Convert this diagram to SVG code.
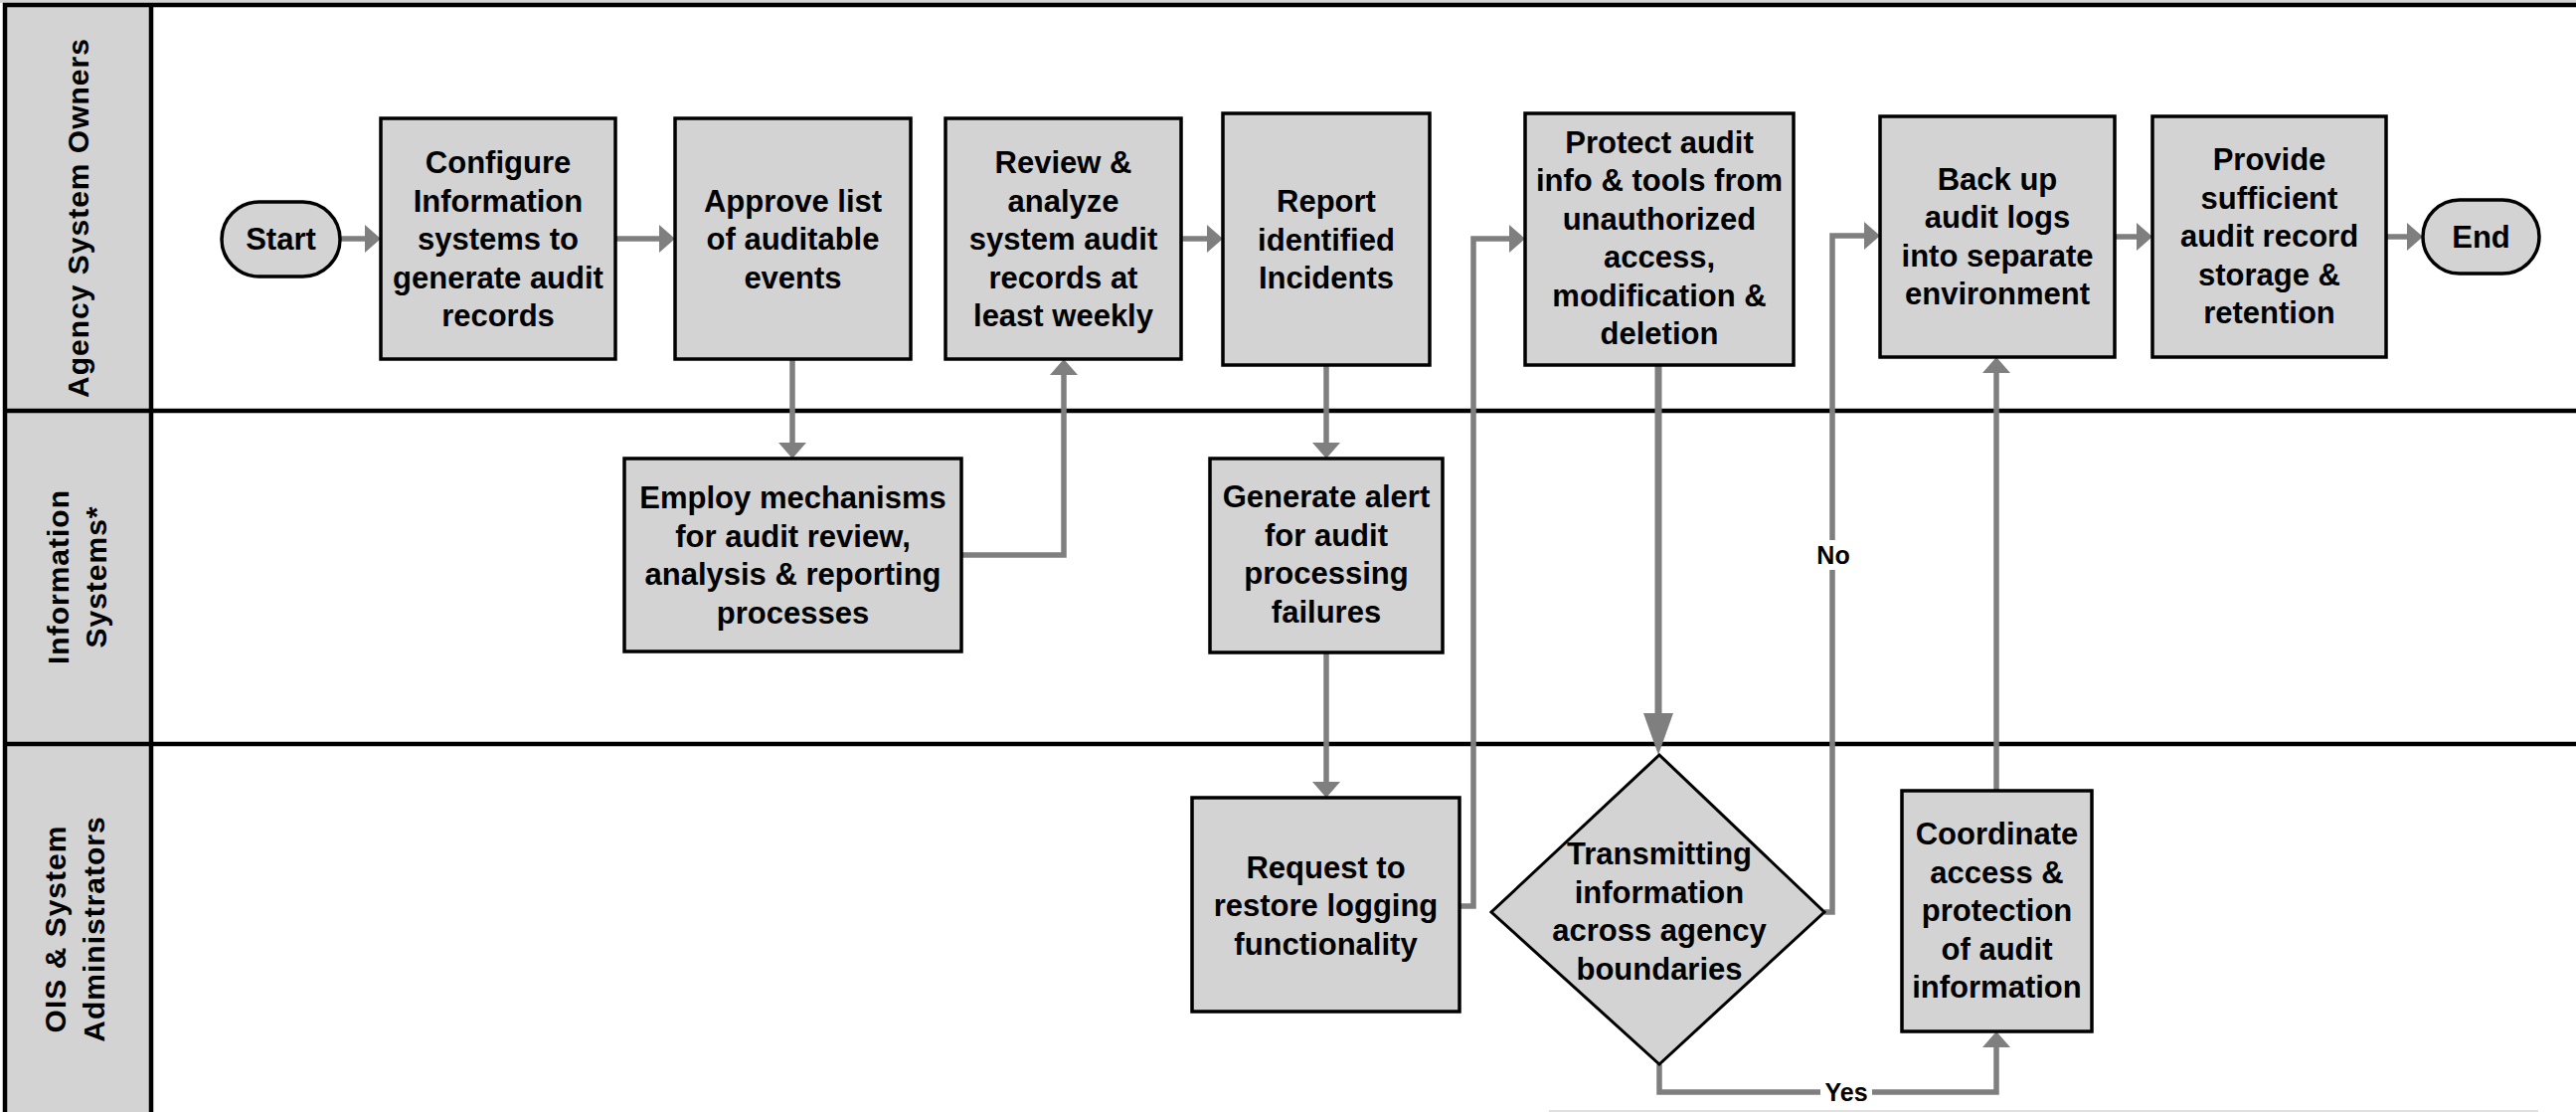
<svg xmlns="http://www.w3.org/2000/svg" width="2591" height="1118" viewBox="0 0 2591 1118">
<defs>
<style>
.box{fill:#d3d3d3;stroke:#000;stroke-width:3.5}
.t{font-family:"Liberation Sans",Arial,sans-serif;font-weight:bold;font-size:31px;text-anchor:middle;fill:#000}
.lane{font-family:"Liberation Sans",Arial,sans-serif;font-weight:bold;font-size:30px;letter-spacing:1px;text-anchor:middle;fill:#000}
.lbl{font-family:"Liberation Sans",Arial,sans-serif;font-weight:bold;font-size:25px;text-anchor:middle;fill:#000}
.c{fill:none;stroke:#7f7f7f;stroke-width:5.5;stroke-linejoin:miter}
.ln{stroke:#000;stroke-width:4.5}
</style>
<marker id="ah" viewBox="0 0 16 28" refX="0" refY="14" markerWidth="16" markerHeight="28" markerUnits="userSpaceOnUse" orient="auto">
<path d="M0,0 L16,14 L0,28 Z" fill="#7f7f7f"/>
</marker>
<marker id="ahb" viewBox="0 0 42 30" refX="0" refY="15" markerWidth="42" markerHeight="30" markerUnits="userSpaceOnUse" orient="auto">
<path d="M0,0 L42,15 L0,30 Z" fill="#7f7f7f"/>
</marker>
</defs>
<rect x="0" y="0" width="2591" height="1118" fill="#fff"/>
<rect x="0" y="0" width="2591" height="3" fill="#d3d3d3"/>
<g id="lanes">
<rect x="5" y="5" width="147" height="1113" fill="#d3d3d3"/>
<line class="ln" x1="3" y1="5" x2="2591" y2="5"/>
<line class="ln" x1="5" y1="3" x2="5" y2="1118"/>
<line class="ln" x1="152" y1="5" x2="152" y2="1118"/>
<line class="ln" x1="3" y1="413" x2="2591" y2="413"/>
<line class="ln" x1="3" y1="748" x2="2591" y2="748"/>
<line x1="1558" y1="1117" x2="2553" y2="1117" stroke="#e0e0e0" stroke-width="2"/>
<text class="lane" transform="translate(89,219) rotate(-90)">Agency System Owners</text>
<text class="lane" transform="translate(69,580) rotate(-90)">Information</text>
<text class="lane" transform="translate(107,580) rotate(-90)">Systems*</text>
<text class="lane" transform="translate(66,934) rotate(-90)">OIS &amp; System</text>
<text class="lane" transform="translate(105,934) rotate(-90)">Administrators</text>
</g>
<g id="connectors">
<path class="c" d="M342,240 H367" marker-end="url(#ah)"/>
<path class="c" d="M619,240 H663" marker-end="url(#ah)"/>
<path class="c" d="M797,361 V445" marker-end="url(#ah)"/>
<path class="c" d="M967,558 H1070 V377" marker-end="url(#ah)"/>
<path class="c" d="M1188,240 H1214" marker-end="url(#ah)"/>
<path class="c" d="M1334,367 V445" marker-end="url(#ah)"/>
<path class="c" d="M1334,656 V786" marker-end="url(#ah)"/>
<path class="c" d="M1468,911 H1482 V240 H1518" marker-end="url(#ah)"/>
<path class="c" d="M1668,367 V717" style="stroke-width:7" marker-end="url(#ahb)"/>
<path class="c" d="M1835,917 H1843 V237 H1875" marker-end="url(#ah)"/>
<path class="c" d="M1669,1070 V1098 H2008 V1053" marker-end="url(#ah)"/>
<path class="c" d="M2008,795 V375" marker-end="url(#ah)"/>
<path class="c" d="M2127,238 H2149" marker-end="url(#ah)"/>
<path class="c" d="M2400,238 H2421" marker-end="url(#ah)"/>
<rect x="1826" y="543" width="36" height="30" fill="#fff"/>
<text class="lbl" x="1844" y="567">No</text>
<rect x="1831" y="1084" width="52" height="30" fill="#fff"/>
<text class="lbl" x="1857" y="1107">Yes</text>
</g>
<g id="start">
<rect class="box" x="223" y="203" width="119" height="75" rx="37.5"/>
<text class="t" x="282.5" y="251">Start</text>
</g>
<g id="configure">
<rect class="box" x="383" y="119" width="236" height="242"/>
<text class="t" x="501"><tspan x="501" y="174">Configure</tspan><tspan x="501" y="212.5">Information</tspan><tspan x="501" y="251">systems to</tspan><tspan x="501" y="289.5">generate audit</tspan><tspan x="501" y="328">records</tspan></text>
</g>
<g id="approve">
<rect class="box" x="679" y="119" width="237" height="242"/>
<text class="t"><tspan x="797.5" y="212.5">Approve list</tspan><tspan x="797.5" y="251">of auditable</tspan><tspan x="797.5" y="289.5">events</tspan></text>
</g>
<g id="review">
<rect class="box" x="951" y="119" width="237" height="242"/>
<text class="t"><tspan x="1069.5" y="174">Review &amp;</tspan><tspan x="1069.5" y="212.5">analyze</tspan><tspan x="1069.5" y="251">system audit</tspan><tspan x="1069.5" y="289.5">records at</tspan><tspan x="1069.5" y="328">least weekly</tspan></text>
</g>
<g id="report">
<rect class="box" x="1230" y="114" width="208" height="253"/>
<text class="t"><tspan x="1334" y="213">Report</tspan><tspan x="1334" y="251.5">identified</tspan><tspan x="1334" y="290">Incidents</tspan></text>
</g>
<g id="protect">
<rect class="box" x="1534" y="114" width="270" height="253"/>
<text class="t"><tspan x="1669" y="153.75">Protect audit</tspan><tspan x="1669" y="192.25">info &amp; tools from</tspan><tspan x="1669" y="230.75">unauthorized</tspan><tspan x="1669" y="269.25">access,</tspan><tspan x="1669" y="307.75">modification &amp;</tspan><tspan x="1669" y="346.25">deletion</tspan></text>
</g>
<g id="backup">
<rect class="box" x="1891" y="117" width="236" height="242"/>
<text class="t"><tspan x="2009" y="190.75">Back up</tspan><tspan x="2009" y="229.25">audit logs</tspan><tspan x="2009" y="267.75">into separate</tspan><tspan x="2009" y="306.25">environment</tspan></text>
</g>
<g id="provide">
<rect class="box" x="2165" y="117" width="235" height="242"/>
<text class="t"><tspan x="2282.5" y="171">Provide</tspan><tspan x="2282.5" y="209.5">sufficient</tspan><tspan x="2282.5" y="248">audit record</tspan><tspan x="2282.5" y="286.5">storage &amp;</tspan><tspan x="2282.5" y="325">retention</tspan></text>
</g>
<g id="end">
<rect class="box" x="2437" y="201" width="117" height="74" rx="37"/>
<text class="t" x="2495.5" y="249">End</text>
</g>
<g id="employ">
<rect class="box" x="628" y="461" width="339" height="194"/>
<text class="t"><tspan x="797.5" y="511.25">Employ mechanisms</tspan><tspan x="797.5" y="549.75">for audit review,</tspan><tspan x="797.5" y="588.25">analysis &amp; reporting</tspan><tspan x="797.5" y="626.75">processes</tspan></text>
</g>
<g id="generate">
<rect class="box" x="1217" y="461" width="234" height="195"/>
<text class="t"><tspan x="1334" y="510.25">Generate alert</tspan><tspan x="1334" y="548.75">for audit</tspan><tspan x="1334" y="587.25">processing</tspan><tspan x="1334" y="625.75">failures</tspan></text>
</g>
<g id="request">
<rect class="box" x="1199" y="802" width="269" height="215"/>
<text class="t"><tspan x="1333.5" y="882.5">Request to</tspan><tspan x="1333.5" y="921">restore logging</tspan><tspan x="1333.5" y="959.5">functionality</tspan></text>
</g>
<g id="decision">
<polygon class="box" style="stroke-width:3" points="1669,759 1835,917 1669,1070 1500,917"/>
<text class="t"><tspan x="1669" y="869.25">Transmitting</tspan><tspan x="1669" y="907.75">information</tspan><tspan x="1669" y="946.25">across agency</tspan><tspan x="1669" y="984.75">boundaries</tspan></text>
</g>
<g id="coordinate">
<rect class="box" x="1913" y="795" width="191" height="242"/>
<text class="t"><tspan x="2008.5" y="849">Coordinate</tspan><tspan x="2008.5" y="887.5">access &amp;</tspan><tspan x="2008.5" y="926">protection</tspan><tspan x="2008.5" y="964.5">of audit</tspan><tspan x="2008.5" y="1003">information</tspan></text>
</g>
</svg>
